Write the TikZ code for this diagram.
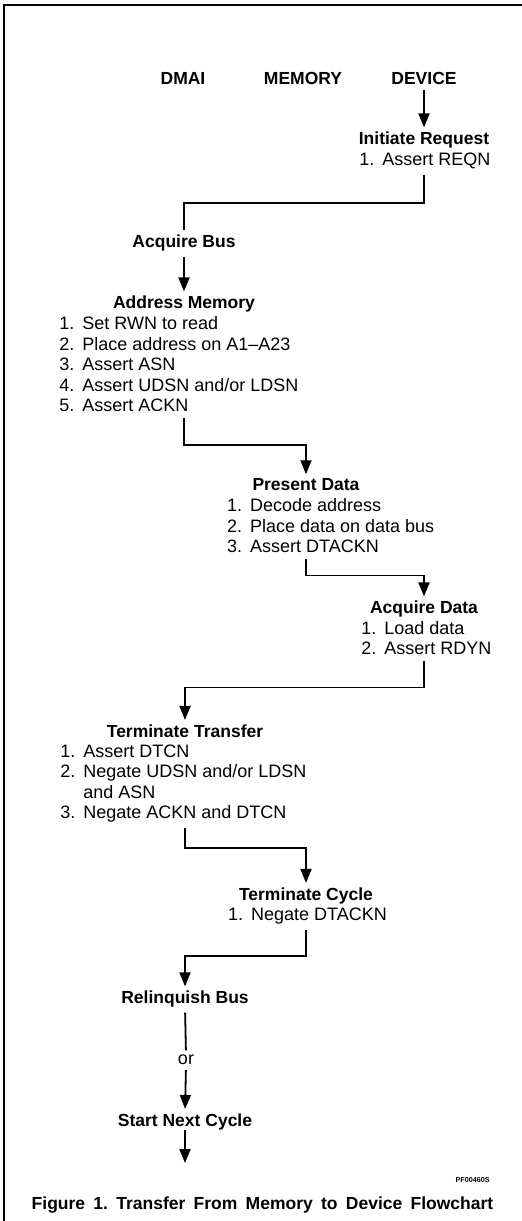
\documentclass[tikz,border=0pt]{standalone}
\usepackage{fontspec}
\setmainfont{Liberation Sans}
\usetikzlibrary{arrows.meta}
\frenchspacing
\newcommand{\stepno}[1]{\makebox[11.5pt][l]{#1}}

\begin{document}
\begin{tikzpicture}[x=0.5pt, y=-0.5pt,
    head/.style={font=\fontsize{8.75}{10.25}\selectfont\bfseries, inner sep=0pt, anchor=base},
    steps/.style={font=\fontsize{9}{10.25}\selectfont, inner sep=0pt, align=left, anchor=north west},
    flow/.style={line width=0.9pt, -{Triangle[width=5.5pt,length=7pt]}, shorten <=2.5pt, shorten >=2pt},
    link/.style={line width=0.9pt, shorten <=2.5pt, shorten >=2pt}]

    \useasboundingbox (0,0) rectangle (522,1221);
    % frame
    \draw[line width=1pt] (4,1221) -- (4,5) -- (522,5);

    % columns
    \node[head] (dmai) at (183,84) {DMAI};
    \node[head] (mem) at (303,84) {MEMORY};
    \node[head] (dev) at (424,84) {DEVICE};

    % the steps
    \node[head] (init) at (424,144.5) {Initiate Request};
    \node[steps] (initl) at (359,153) {\stepno{1.}Assert REQN};

    \node[head] (acq) at (184,247.5) {Acquire Bus};

    \node[head] (addr) at (184,308.5) {Address Memory};
    \node[steps] (addrl) at (59,316.5) {\stepno{1.}Set RWN to read\\
        \stepno{2.}Place address on A1--A23\\
        \stepno{3.}Assert ASN\\
        \stepno{4.}Assert UDSN and/or LDSN\\
        \stepno{5.}Assert ACKN};

    \node[head] (pres) at (306,490.7) {Present Data};
    \node[steps] (presl) at (226.7,498.5) {\stepno{1.}Decode address\\
        \stepno{2.}Place data on data bus\\
        \stepno{3.}Assert DTACKN};

    \node[head] (acqd) at (424,613.5) {Acquire Data};
    \node[steps] (acqdl) at (361,621) {\stepno{1.}Load data\\
        \stepno{2.}Assert RDYN};

    \node[head] (termt) at (185,737) {Terminate Transfer};
    \node[steps] (termtl) at (60,744.5) {\stepno{1.}Assert DTCN\\
        \stepno{2.}Negate UDSN and/or LDSN\\
        \stepno{}and ASN\\
        \stepno{3.}Negate ACKN and DTCN};

    \node[head] (termc) at (306,900) {Terminate Cycle};
    \node[steps] (termcl) at (227.7,908) {\stepno{1.}Negate DTACKN};

    \node[head] (relq) at (185,1003.5) {Relinquish Bus};
    \node[font=\fontsize{9}{10.25}\selectfont, inner sep=0pt, anchor=base] (or) at (186,1064.5) {or};
    \node[head] (next) at (185,1126) {Start Next Cycle};
    \coordinate (out) at (185,1167);

    % connectors
    \draw[flow] (dev.south) -- (init.north);
    \draw[link] (initl.south -| init) -- ++(0,33) -| (acq.north);
    \draw[flow] (acq.south) -- (addr.north);
    \draw[flow] (addrl.south -| addr) -- ++(0,32.6) -| (pres.north);
    \draw[flow] (presl.south -| pres) -- ++(0,22) -| (acqd.north);
    \draw[flow] (acqdl.south -| acqd) -- ++(0,32) -| (termt.north);
    \draw[flow] (termtl.south -| termt) -- ++(0,25) -| (termc.north);
    \draw[flow] (termcl.south -| termc) -- ++(0,31) -| (relq.north);
    \draw[link] (relq.south) -- (or.north);
    \draw[flow] (or.south) -- (next.north);
    \draw[flow, shorten <=0pt] (next.south) -- (out);

    % caption
    \node[font=\fontsize{3.6}{4}\selectfont\bfseries, inner sep=0pt, anchor=base east] (code) at (490,1182.5) {PF00460S};
    \node[head] (caption) at (262.5,1209) {\makebox[230.8pt][s]{Figure 1. Transfer From Memory to Device Flowchart}};

\end{tikzpicture}
\end{document}
